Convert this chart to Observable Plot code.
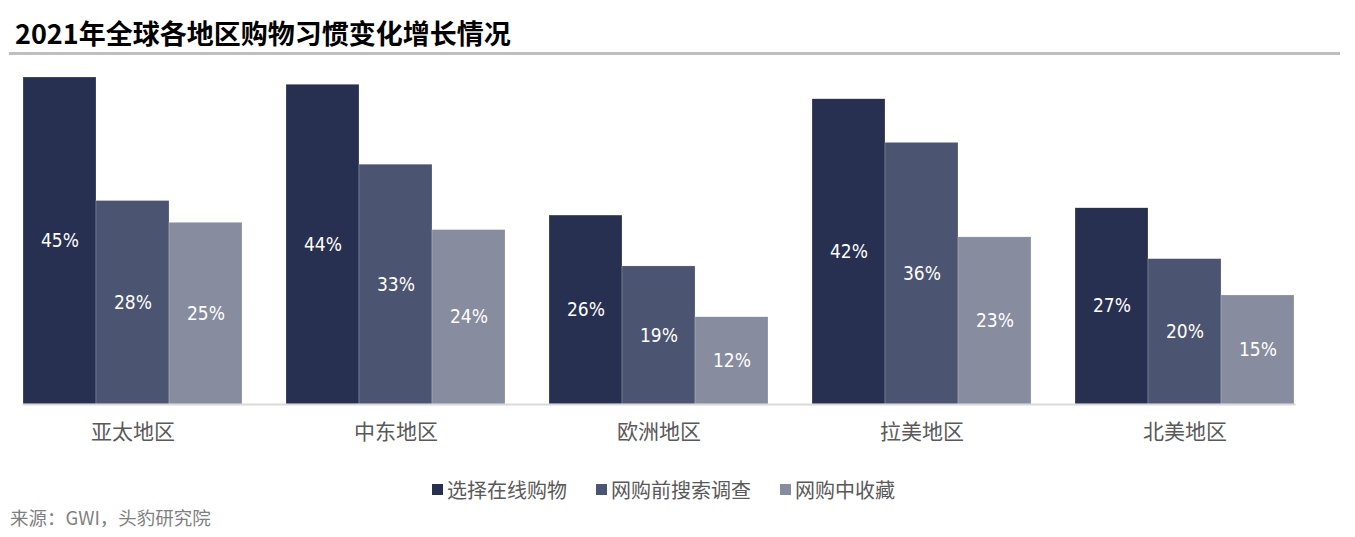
<!DOCTYPE html>
<html>
<head>
<meta charset="utf-8">
<script src="https://cdn.jsdelivr.net/npm/d3@7"></script>
<script src="https://cdn.jsdelivr.net/npm/@observablehq/plot@0.6"></script>
<style>
  html, body { margin: 0; padding: 0; background: #fff; }
  #wrap { position: relative; width: 1355px; height: 537px; overflow: hidden; font-family: "Noto Sans CJK SC", "Noto Sans", sans-serif; }
  #title { position: absolute; left: 15px; top: 19px; font-size: 27px; line-height: 28px; font-weight: bold; color: #000; white-space: nowrap; }
  #rule { position: absolute; left: 9px; top: 52px; width: 1331px; height: 3px; background: #bfbfbf; }
  #chart { position: absolute; left: 0; top: 60px; }
  #legend { position: absolute; left: 432px; top: 473px; }
  #source { position: absolute; left: 10px; top: 505px; font-size: 18.5px; line-height: 24px; color: #7f7f7f; white-space: nowrap; }
  .lg-swatch { margin-right: 29px !important; font-size: 20px !important; color: #595959 !important; font-family: "Noto Sans CJK SC", sans-serif !important; }
  .lg-swatch > svg { margin-right: 4px !important; }
</style>
</head>
<body>
<div id="wrap">
  <div id="title">2021年全球各地区购物习惯变化增长情况</div>
  <div id="rule"></div>
  <div id="chart"></div>
  <div id="legend"></div>
  <div id="source">来源：GWI，头豹研究院</div>
</div>
<script>
const regions = ["亚太地区", "中东地区", "欧洲地区", "拉美地区", "北美地区"];
const series = ["选择在线购物", "网购前搜索调查", "网购中收藏"];
const onlineShopping = [45, 44, 26, 42, 27];
const researchBefore = [28, 33, 19, 36, 20];
const favorites = [25, 24, 12, 23, 15];
const colors = ["#283052", "#4b5470", "#878c9f"];

const seriesValues = [onlineShopping, researchBefore, favorites];
const data = [];
regions.forEach((r, i) => {
  series.forEach((s, j) => data.push({region: r, series: s, value: seriesValues[j][i]}));
});

const numFont = '"Liberation Sans Narrow", "Arial Narrow", "DejaVu Sans Condensed", sans-serif';

const chart = Plot.plot({
  width: 1355,
  height: 394,
  marginTop: 17,
  marginBottom: 50,
  marginLeft: 1,
  marginRight: 39,
  style: {background: "transparent", overflow: "visible"},
  fx: {domain: regions, paddingInner: 44 / 263, paddingOuter: 22 / 263, label: null},
  x: {domain: series, padding: 0, axis: null},
  y: {domain: [0, 45], axis: null},
  color: {domain: series, range: colors},
  marks: [
    Plot.barY(data, {fx: "region", x: "series", y: "value", fill: "series", stroke: "#ffffff", strokeWidth: 0.4, strokeOpacity: 0.5}),
    Plot.text(data, {fx: "region", x: "series", y: d => d.value / 2, text: d => d.value + "%", fill: "#ffffff", fontSize: 19, fontFamily: numFont}),
    Plot.frame({anchor: "bottom", facet: "super", stroke: "#d9d9d9", strokeWidth: 2}),
    Plot.axisFx({anchor: "bottom", tickSize: 0, tickPadding: 20, fontSize: 21, fill: "#595959", fontFamily: "Noto Sans CJK SC", label: null})
  ]
});
document.getElementById("chart").appendChild(chart);

const legend = Plot.legend({
  color: {type: "ordinal", domain: series, range: colors},
  swatchSize: 11,
  className: "lg"
});
document.getElementById("legend").appendChild(legend);
</script>
</body>
</html>
